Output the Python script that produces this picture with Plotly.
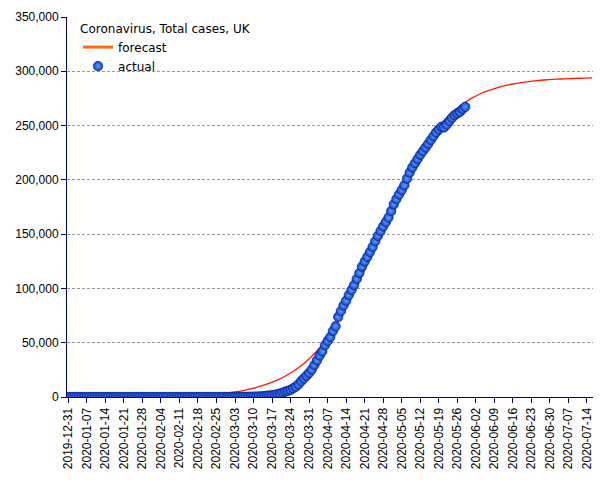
import pandas as pd
import plotly.graph_objects as go

# ---- data ----
actual_start = "2019-12-31"
actual_values = (
    [0] * 32 +                                   # 2019-12-31 .. 2020-01-31
    [2] * 6 + [3] * 3 + [4] + [8] * 2 + [9] * 14 + [13, 15, 20] +  # February
    [23, 36, 40, 51, 85, 115, 163, 206, 273, 321, 373, 456, 590, 798, 1140,
     1372, 1543, 1950, 2626, 3269, 3983, 5018, 5683, 6650, 8077, 9529, 11658,
     14543, 17089, 19522, 22141] +               # March
    [25150, 29474, 33718, 38168, 41903, 47806, 51608, 55242, 60733, 65077,
     73758, 78991, 84279, 88621, 93873, 98476, 103093, 108692, 114217, 120067,
     124743, 129044, 133495, 138078, 143464, 148377, 152840, 157149, 161145,
     165221] +                                   # April
    [171253, 177454, 182260, 186599, 190584, 194990, 201101, 206715, 211364,
     215260, 219183, 223060, 226463, 229705, 233151, 236711, 240161, 243695,
     246406, 248818, 248293, 250908, 254195, 257154, 259559, 261184, 262547,
     265227, 267240]                             # May
)

forecast_start = "2019-12-31"
forecast_step = "3D"
forecast_values = [
    39, 49, 61, 77, 97, 122, 153, 192, 241, 303, 381, 478, 600, 753, 946,
    1187, 1489, 1868, 2343, 2940, 3700, 4700, 5950, 7500, 9450, 11800, 14600,
    18000, 22100, 27000, 32900, 39800, 48100, 57970, 69330, 82130, 96280,
    111600, 127770, 144450, 161180, 177570, 193220, 207780, 221060, 232900,
    243270, 252230, 259830, 266220, 271530, 275930, 279520, 282440, 284820,
    286760, 288300, 289540, 290530, 291330, 291980, 292490, 292890, 293220,
    293480, 293690, 293850,
]

tick_start = "2019-12-31"
y_ticks = [0, 50000, 100000, 150000, 200000, 250000, 300000, 350000]
legend_title = "Coronavirus, Total cases, UK"

actual_dates = pd.date_range(actual_start, periods=len(actual_values), freq="D")
forecast_dates = pd.date_range(forecast_start, periods=len(forecast_values), freq=forecast_step)

fig = go.Figure()

fig.add_trace(go.Scatter(
    x=forecast_dates, y=forecast_values, mode="lines",
    line=dict(color="#ff1a00", width=1.3, shape="spline"),
    showlegend=False, hoverinfo="skip",
))
fig.add_trace(go.Scatter(
    x=[None], y=[None], mode="lines", name="forecast",
    line=dict(color="#ff6a1a", width=3),
))
fig.add_trace(go.Scatter(
    x=actual_dates, y=actual_values, mode="markers", name="actual",
    marker=dict(size=9.5, color="#1240cc",
                gradient=dict(type="radial", color="#5aa6ff"),
                line=dict(width=0.6, color="#061a78")),
))

axis_color = "#000066"
# the page body adds an 8px offset, so the figure is 8px smaller on each side
fig.update_layout(
    width=597, height=472,
    margin=dict(l=59, r=12, t=9, b=83, autoexpand=False),
    paper_bgcolor="white", plot_bgcolor="white",
    font=dict(family="Liberation Sans, Arial, sans-serif", size=12, color="black"),
    legend=dict(
        x=0.021, y=1.0, xanchor="left", yanchor="top",
        bgcolor="rgba(0,0,0,0)", borderwidth=0,
        title=dict(text=legend_title, font=dict(family="DejaVu Sans", size=12)),
        font=dict(family="DejaVu Sans", size=12, color="black"),
        tracegroupgap=0,
    ),
    xaxis=dict(
        type="date",
        range=["2019-12-30 12:00", "2020-07-16 07:00"],
        tick0=tick_start, dtick=7 * 86400000, tickformat="%Y-%m-%d",
        tickangle=-90, ticks="outside", ticklen=5, tickcolor=axis_color,
        showline=True, linecolor=axis_color, linewidth=1,
        showgrid=False, zeroline=False, automargin=False,
        tickfont=dict(family="Liberation Sans, Arial", size=12, color="black"),
    ),
    yaxis=dict(
        range=[0, 350000], tickvals=y_ticks, tickformat=",",
        ticks="outside", ticklen=5, tickcolor=axis_color,
        showline=True, linecolor=axis_color, linewidth=1,
        showgrid=True, gridcolor="#999999", gridwidth=1, griddash="3px,2px",
        zeroline=False, automargin=False,
        tickfont=dict(family="Liberation Sans, Arial", size=12, color="black"),
    ),
)

fig.write_html("out.html")
